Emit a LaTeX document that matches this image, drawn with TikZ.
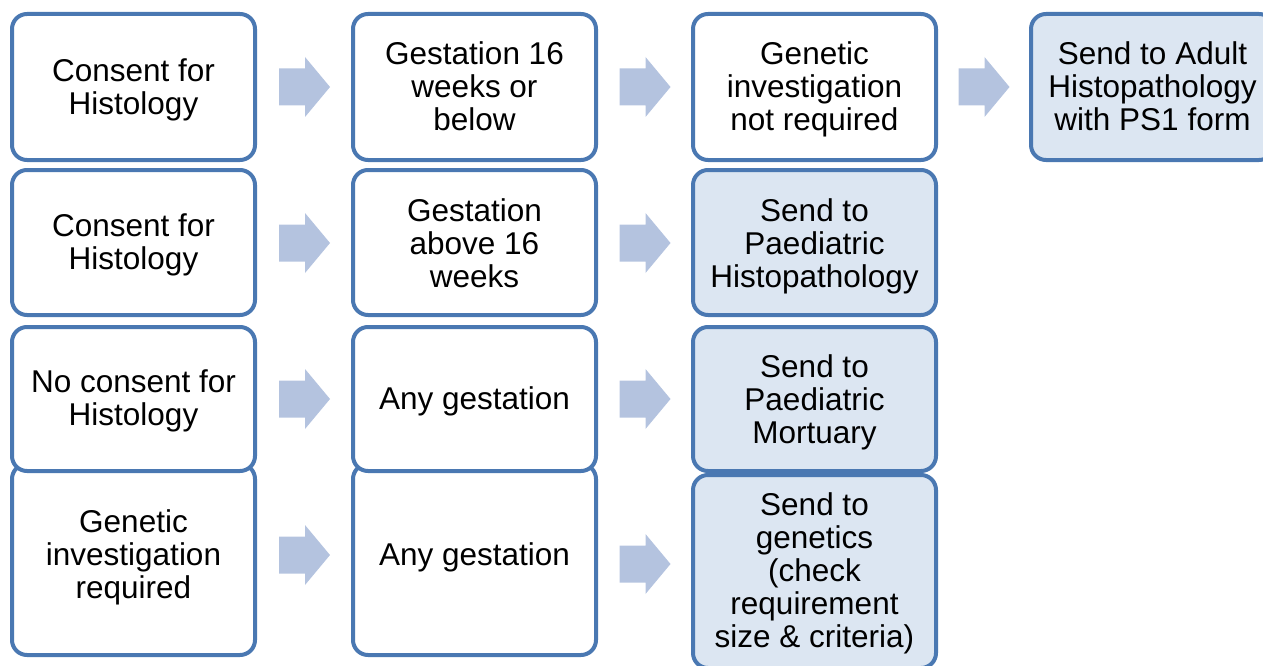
\documentclass[tikz,border=0pt]{standalone}
\usepackage{fontspec}
\setmainfont{Liberation Sans}
\definecolor{edgeblue}{HTML}{4A78B2}
\definecolor{lightfill}{HTML}{DCE6F2}
\definecolor{arrowc}{HTML}{B4C3DF}
\tikzset{
  box/.style={draw=edgeblue, line width=4pt, rounded corners=15pt, fill=white,
    align=center, inner sep=0pt, font=\fontsize{31.5}{33}\selectfont},
  result/.style={box, fill=lightfill},
  txt/.style={align=center, inner sep=0pt, font=\fontsize{31.5}{33}\selectfont},
  blockarrow/.pic={\fill[arrowc] (-25.5,-18.5) -- (0.5,-18.5) -- (0.5,-30) -- (25.5,0) -- (0.5,30) -- (0.5,18.5) -- (-25.5,18.5) -- cycle;}
}
\begin{document}
\begin{tikzpicture}[x=1pt,y=-1pt]
\useasboundingbox (0,0) rectangle (1263,666);
\clip (0,0) rectangle (1263,666);
% row 4 first (row 3 overlaps its top)
\node[box, minimum width=243pt, minimum height=191pt] (a4) at (133.5,559.5) {};
\node[txt] (t4) at (133.5,557) {Genetic\\investigation\\required};
\node[box, minimum width=243pt, minimum height=191pt] (b4) at (474.5,559.5) {};
\node[txt] (u4) at (474.5,557) {Any gestation};
\node[result, minimum width=243pt, minimum height=193pt] (c4) at (814.5,571.5) {};
\node[txt] (v4) at (814.5,573) {Send to\\genetics\\(check\\requirement\\size \& criteria)};
% row 1
\foreach \n/\x/\ty/\f/\t in {a1/133.5/89.5/white/{Consent for\\Histology},
                         b1/474.5/86.5/white/{Gestation 16\\weeks or\\below},
                         c1/814.5/89.5/white/{Genetic\\investigation\\not required},
                         d1/1152.5/86.5/lightfill/{Send to Adult\\Histopathology\\with PS1 form}}{
  \node[box, fill=\f, minimum width=243pt, minimum height=146pt] (\n) at (\x,87) {};
  \node[txt] (\n t) at (\x,\ty) {\t};
}
% row 2
\foreach \n/\x/\ty/\f/\t in {a2/133.5/244.5/white/{Consent for\\Histology},
                         b2/474.5/243.5/white/{Gestation\\above 16\\weeks},
                         c2/814.5/246/lightfill/{Send to\\Paediatric\\Histopathology}}{
  \node[box, fill=\f, minimum width=243pt, minimum height=145pt] (\n) at (\x,242.5) {};
  \node[txt] (\n t) at (\x,\ty) {\t};
}
% row 3
\foreach \n/\x/\ty/\f/\t in {a3/133.5/400.5/white/{No consent for\\Histology},
                         b3/474.5/401.5/white/{Any gestation},
                         c3/814.5/402.5/lightfill/{Send to\\Paediatric\\Mortuary}}{
  \node[box, fill=\f, minimum width=243pt, minimum height=144pt] (\n) at (\x,399) {};
  \node[txt] (\n t) at (\x,\ty) {\t};
}
% block arrows
\pic at (304.5,87) {blockarrow};
\pic at (645,87) {blockarrow};
\pic at (984,87) {blockarrow};
\pic at (304.5,243) {blockarrow};
\pic at (645,243) {blockarrow};
\pic at (304.5,399) {blockarrow};
\pic at (645,399) {blockarrow};
\pic at (304.5,555) {blockarrow};
\pic at (645,564) {blockarrow};
\end{tikzpicture}
\end{document}
